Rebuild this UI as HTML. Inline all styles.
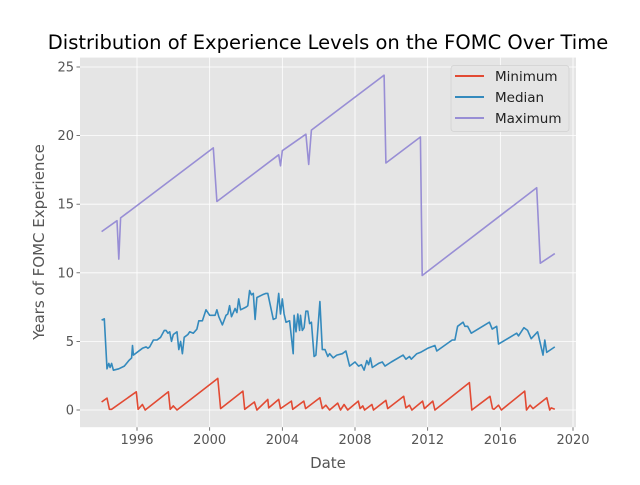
<!DOCTYPE html>
<html><head><meta charset="utf-8"><style>
body{margin:0;background:#fff;}
svg text{font-family:"DejaVu Sans","Liberation Sans",sans-serif;}
</style></head><body>
<svg width="640" height="480" viewBox="0 0 640 480" id="chart">
<rect x="80" y="57.6" width="496" height="369.6" fill="#e5e5e5"/>
<g id="grid"></g><g id="series"></g><g id="axes"></g>
<text x="328" y="49" text-anchor="middle" font-size="19.5" fill="#000">Distribution of Experience Levels on the FOMC Over Time</text>
<text x="328" y="468" text-anchor="middle" font-size="15" fill="#555">Date</text>
<text transform="translate(44,242) rotate(-90)" text-anchor="middle" font-size="15" fill="#555">Years of FOMC Experience</text>
<g>
<rect x="451" y="65.5" width="118" height="66" rx="3" fill="#e5e5e5" stroke="#d0d0d0" stroke-width="0.8" opacity="0.9"/>
<g><line x1="455" y1="76" x2="484" y2="76" stroke="#E24A33" stroke-width="2"/><text x="495" y="81" font-size="13.5" fill="#222">Minimum</text></g>
<g><line x1="455" y1="97" x2="484" y2="97" stroke="#348ABD" stroke-width="2"/><text x="495" y="102" font-size="13.5" fill="#222">Median</text></g>
<g><line x1="455" y1="118" x2="484" y2="118" stroke="#988ED5" stroke-width="2"/><text x="495" y="123" font-size="13.5" fill="#222">Maximum</text></g>
</g>
</svg>
<script>
const xTicks=[1996,2000,2004,2008,2012,2016,2020];
const yTicks=[0,5,10,15,20,25];
const minYears=[1994.05,1994.35,1994.48,1994.6,1995.96,1996.06,1996.3,1996.45,1997.73,1997.83,1998.0,1998.2,2000.45,2000.6,2001.83,2001.93,2002.46,2002.6,2003.2,2003.25,2003.8,2003.9,2004.5,2004.57,2005.18,2005.28,2006.07,2006.2,2006.4,2006.6,2007.05,2007.2,2007.4,2007.6,2008.18,2008.28,2008.43,2008.53,2008.93,2009.02,2009.7,2009.8,2010.68,2010.8,2011.0,2011.13,2011.72,2011.82,2012.28,2012.4,2014.3,2014.43,2015.43,2015.57,2015.65,2015.9,2016.06,2017.34,2017.44,2017.64,2017.8,2018.56,2018.72,2018.8,2019.0];
const minVals=[0.58,0.87,0.05,0.05,1.33,0.05,0.4,0,1.33,0.05,0.3,0,2.3,0.1,1.38,0.05,0.58,0,0.77,0.15,0.77,0.1,0.65,0.05,0.65,0.1,0.9,0.1,0.35,0,0.5,0,0.4,0,0.65,0.1,0.3,0,0.4,0,0.7,0.1,1.0,0.15,0.35,0,0.65,0.1,0.65,0,2.0,0,1.0,0.1,0.05,0.35,0,1.38,0,0.35,0.1,0.9,0,0.15,0.05];
const medYears=[1994.05,1994.2,1994.35,1994.45,1994.52,1994.6,1994.7,1995.0,1995.3,1995.55,1995.7,1995.75,1995.8,1996.3,1996.5,1996.6,1996.7,1996.9,1997.1,1997.3,1997.5,1997.6,1997.7,1997.8,1997.9,1998.0,1998.2,1998.3,1998.4,1998.5,1998.6,1998.8,1998.9,1999.1,1999.3,1999.4,1999.6,1999.8,2000.0,2000.3,2000.4,2000.5,2000.7,2000.9,2001.0,2001.1,2001.2,2001.4,2001.5,2001.6,2001.7,2002.0,2002.1,2002.2,2002.3,2002.4,2002.5,2002.6,2002.9,2003.1,2003.2,2003.5,2003.65,2003.8,2003.9,2004.0,2004.1,2004.2,2004.4,2004.6,2004.65,2004.75,2004.85,2004.95,2005.0,2005.1,2005.2,2005.3,2005.4,2005.5,2005.6,2005.75,2005.85,2006.07,2006.2,2006.35,2006.5,2006.6,2006.8,2007.0,2007.3,2007.5,2007.7,2008.0,2008.2,2008.35,2008.5,2008.65,2008.75,2008.85,2008.95,2009.3,2009.5,2009.65,2010.0,2010.65,2010.8,2011.0,2011.1,2011.4,2011.6,2012.0,2012.4,2012.5,2013.35,2013.5,2013.65,2013.95,2014.05,2014.2,2014.4,2015.4,2015.55,2015.8,2015.9,2016.9,2017.0,2017.3,2017.5,2017.7,2018.05,2018.35,2018.45,2018.55,2019.0];
const medVals=[6.55,6.65,3.0,3.4,3.1,3.4,2.9,3.0,3.2,3.6,3.8,4.7,4.0,4.5,4.6,4.5,4.6,5.1,5.1,5.3,5.8,5.8,5.6,5.7,5.0,5.5,5.7,4.4,5.0,4.1,5.3,5.5,5.7,5.6,5.9,6.5,6.5,7.3,6.9,6.9,7.3,6.8,6.2,6.9,7.0,7.6,6.8,7.4,7.1,8.1,7.3,7.5,7.6,8.7,8.4,8.5,6.6,8.2,8.4,8.5,8.5,6.6,6.7,8.5,7.0,8.1,7.0,6.4,6.5,4.1,6.9,5.7,7.0,5.8,6.9,5.8,6.0,7.2,7.2,6.3,6.4,3.9,4.0,7.9,4.4,4.4,3.9,4.1,3.8,4.0,4.1,4.3,3.2,3.5,3.2,3.3,2.9,3.6,3.3,3.8,3.1,3.4,3.5,3.2,3.5,4.0,3.7,3.9,3.7,4.1,4.2,4.5,4.7,4.3,5.1,5.1,6.1,6.4,6.1,6.1,5.6,6.4,5.9,6.1,4.8,5.6,5.4,6.0,5.8,5.2,5.7,4.0,5.1,4.2,4.6];
const maxYears=[1994.05,1994.9,1995.0,1995.1,2000.2,2000.4,2003.8,2003.9,2004.0,2005.3,2005.45,2005.6,2009.6,2009.7,2011.6,2011.7,2018.0,2018.2,2019.0];
const maxVals=[13.0,13.8,11.0,14.0,19.1,15.2,18.6,17.8,18.9,20.1,17.9,20.4,24.4,18.0,19.9,9.8,16.2,10.7,11.4];
const NS='http://www.w3.org/2000/svg';
const L=80,R=576,T=57.6,B=427.2;
function xs(v){return 137+(v-1996)*(573-137)/24;}
function ys(v){return 410+(v-0)*(67-410)/25;}
const grid=document.getElementById('grid'),axes=document.getElementById('axes'),ser=document.getElementById('series');
function mk(tag,attrs,parent){const e=document.createElementNS(NS,tag);for(const k in attrs)e.setAttribute(k,attrs[k]);parent.appendChild(e);return e;}
xTicks.forEach(t=>{const x=xs(t);
 const g=mk('line',{x1:x,x2:x,y1:T,y2:B,stroke:'#fff','stroke-width':0.8},grid);
 
 
 const tk=mk('line',{x1:x,x2:x,y1:B,y2:B+3.5,stroke:'#555','stroke-width':0.8},axes);
 
 
 const tx=mk('text',{x:x,y:B+17,'text-anchor':'middle','font-size':13,fill:'#555'},axes);
 tx.textContent=t;
 
 
});
yTicks.forEach(t=>{const y=ys(t);
 const g=mk('line',{x1:L,x2:R,y1:y,y2:y,stroke:'#fff','stroke-width':0.8},grid);
 
 
 const tk=mk('line',{x1:L-3.5,x2:L,y1:y,y2:y,stroke:'#555','stroke-width':0.8},axes);
 
 
 const tx=mk('text',{x:L-6,y:y+4.5,'text-anchor':'end','font-size':13,fill:'#555'},axes);
 tx.textContent=t;
 
 
});
function line(xsA,vs,color,name){
 const d=xsA.map((x,i)=>(i?'L':'M')+xs(x).toFixed(1)+','+ys(vs[i]).toFixed(1)).join('');
 const p=mk('path',{d:d,fill:'none',stroke:color,'stroke-width':1.6,'stroke-linejoin':'round'},ser);
 
 
}
line(minYears,minVals,'#E24A33','minimum-line');
line(medYears,medVals,'#348ABD','median-line');
line(maxYears,maxVals,'#988ED5','maximum-line');
</script>
</body></html>
